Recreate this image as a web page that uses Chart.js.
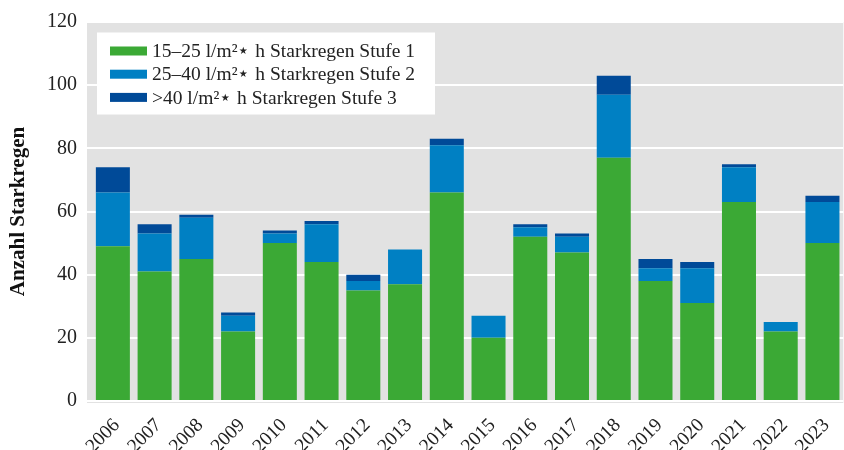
<!DOCTYPE html>
<html>
<head>
<meta charset="UTF-8">
<script src="https://cdn.jsdelivr.net/npm/chart.js@4/dist/chart.umd.min.js"></script>
<title>Starkregen</title>
<style>
	body { margin: 0; background: #fff; }
	.content { width: 844px; height: 450px; }
</style>
</head>
<body>
	<div class="content">
		<canvas id="barChart"></canvas>
	</div>
	<script>
		// Daten
		var years = ["2006", "2007", "2008", "2009", "2010", "2011", "2012", "2013", "2014",
			"2015", "2016", "2017", "2018", "2019", "2020", "2021", "2022", "2023"];
		var stufe1 = [49, 41, 45, 22, 50, 44, 35, 37, 66, 20, 52, 47, 77, 38, 31, 63, 22, 50];
		var stufe2 = [17, 12, 13, 5, 3, 12, 3, 11, 15, 7, 3, 5, 20, 4, 11, 11, 3, 13];
		var stufe3 = [8, 3, 1, 1, 1, 1, 2, 0, 2, 0, 1, 1, 6, 3, 2, 1, 0, 2];
		var yTicks = [0, 20, 40, 60, 80, 100, 120];

		var fontName = "'Liberation Serif', 'DejaVu Serif', serif";

		// grauer Hintergrund
		var bgPlugin = {
			id : 'plotBg',
			beforeDraw : function(chart) {
				var a = chart.chartArea, ctx = chart.ctx;
				ctx.save();
				ctx.fillStyle = "#e2e2e2";
				ctx.fillRect(a.left - 5, a.top, a.right - a.left + 5, a.bottom - a.top + 2);
				ctx.restore();
			}
		};

		// Legende im weissen Kasten
		var legendPlugin = {
			id : 'boxLegend',
			afterDatasetsDraw : function(chart) {
				var a = chart.chartArea, ctx = chart.ctx;
				var x = a.left + 5, y = a.top + 10.5;
				ctx.save();
				ctx.fillStyle = "#ffffff";
				ctx.fillRect(x, y, 338, 82);
				ctx.font = "19.5px " + fontName;
				ctx.textBaseline = "middle";
				chart.data.datasets.forEach(function(ds, i) {
					var cy = y + 18.5 + i * 23.2;
					ctx.fillStyle = ds.backgroundColor;
					ctx.fillRect(x + 13, cy - 4.5, 37, 9);
					ctx.fillStyle = "#222";
					ctx.fillText(ds.label, x + 55, cy + 1);
				});
				ctx.restore();
			}
		};

		function drawChart() {
			var ctx = document.getElementById("barChart").getContext('2d');
			new Chart(ctx, {
				type : 'bar',
				data : {
					labels : years,
					datasets : [ {
						label : "15\u201325 l/m\u00b2\u22c6 h Starkregen Stufe 1",
						backgroundColor : "#3ba935",
						data : stufe1
					}, {
						label : "25\u201340 l/m\u00b2\u22c6 h Starkregen Stufe 2",
						backgroundColor : "#0080c3",
						data : stufe2
					}, {
						label : ">40 l/m\u00b2\u22c6 h Starkregen Stufe 3",
						backgroundColor : "#004a98",
						data : stufe3
					} ]
				},
				plugins : [ bgPlugin, legendPlugin ],
				options : {
					responsive : true,
					maintainAspectRatio : false,
					animation : false,
					layout : {
						padding : { top : 16, right : 0, left : 0, bottom : 0 }
					},
					datasets : {
						bar : {
							categoryPercentage : 1,
							barPercentage : 0.815
						}
					},
					plugins : {
						legend : { display : false },
						tooltip : { enabled : false }
					},
					scales : {
						x : {
							stacked : true,
							grid : { display : false },
							border : { display : false },
							ticks : {
								minRotation : 45,
								maxRotation : 45,
								padding : 5,
								labelOffset : 4,
								color : "#222",
								font : { family : fontName, size : 19.5 }
							},
							afterFit : function(scale) {
								scale.height = 49;
							}
						},
						y : {
							stacked : true,
							min : 0,
							max : 120,
							afterBuildTicks : function(scale) {
								scale.ticks = yTicks.map(function(v) {
									return { value : v };
								});
							},
							grid : {
								color : "#ffffff",
								lineWidth : 2,
								drawTicks : true,
								tickLength : 5
							},
							border : { display : false },
							ticks : {
								padding : 10,
								color : "#222",
								font : { family : fontName, size : 20 }
							},
							title : {
								display : true,
								text : "Anzahl Starkregen",
								color : "#111",
								padding : { top : 6, bottom : 0 },
								font : { family : fontName, size : 21, weight : 'bold' }
							},
							afterFit : function(scale) {
								scale.width = 92;
							}
						}
					}
				}
			});
		}

		drawChart();
	</script>
</body>
</html>
